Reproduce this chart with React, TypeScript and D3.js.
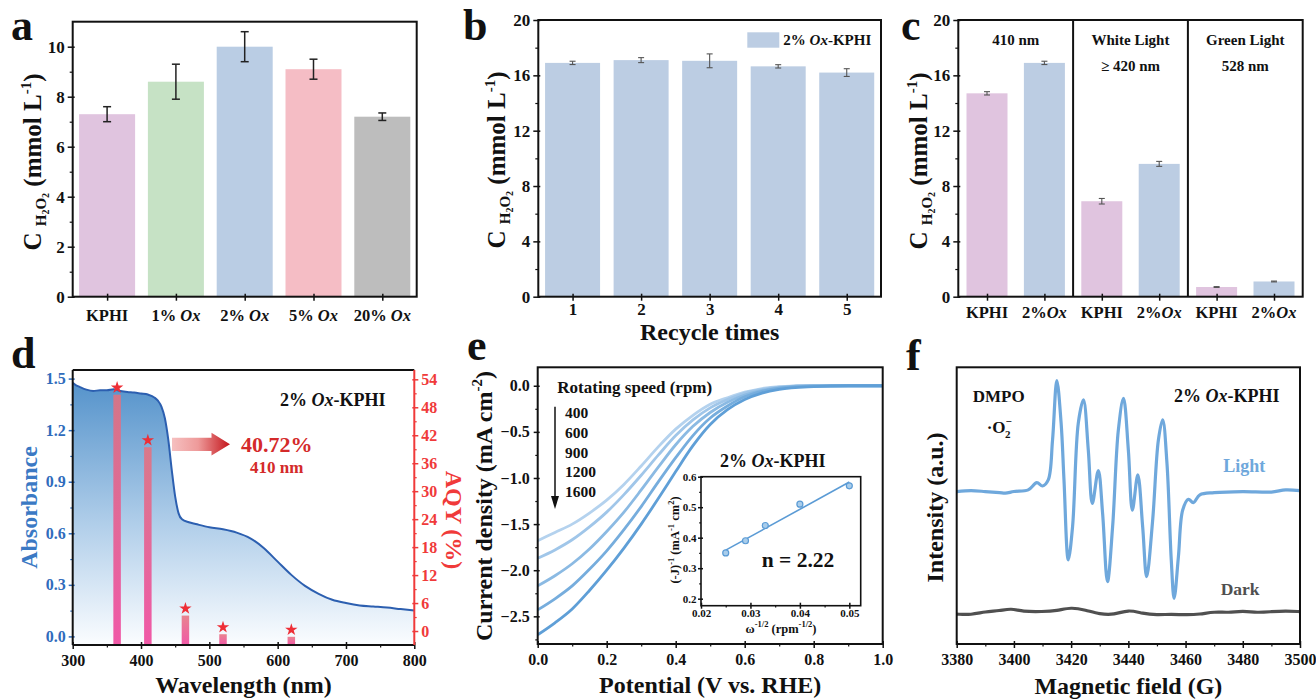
import React, { useEffect, useRef } from 'react';
import * as d3 from 'd3';

const SERIF = '"Liberation Serif", "Times New Roman", Times, serif';

// (a) H2O2 yield for different Ox loadings
const loadingLabels = ['KPHI', '1%', '2%', '5%', '20%'];
const loadingValues = [7.3, 8.6, 10.0, 9.1, 7.2];
const loadingErrors = [0.3, 0.7, 0.6, 0.4, 0.15];
const loadingColors = ['#e0c4df', '#c6e2c5', '#bacde4', '#f5bdc5', '#bdbdbd'];

// (b) recycle test
const recycleRuns = ['1', '2', '3', '4', '5'];
const recycleValues = [16.9, 17.1, 17.05, 16.65, 16.2];
const recycleErrors = [0.12, 0.18, 0.5, 0.12, 0.28];

// (c) light sources
const lightSources = ['410 nm', 'White Light', 'Green Light'];
const lightSubtitles = ['', '≥ 420 nm', '528 nm'];
const kphiByLight = [14.7, 6.9, 0.7];
const oxByLight = [16.9, 9.6, 1.1];
const kphiByLightErr = [0.12, 0.2, 0.03];
const oxByLightErr = [0.12, 0.18, 0.03];

// (d) UV-vis absorbance + AQY
const wavelengths = [300, 305, 310, 320, 330, 340, 350, 360, 370, 380, 390, 400, 410, 420, 425, 430, 435, 440, 445, 450, 455, 460, 470, 480, 500, 520, 540, 560, 580, 600, 620, 640, 660, 680, 700, 720, 740, 760, 780, 800];
const absorbance = [1.475, 1.461, 1.452, 1.436, 1.428, 1.432, 1.432, 1.438, 1.428, 1.422, 1.419, 1.413, 1.407, 1.389, 1.37, 1.336, 1.268, 1.142, 0.968, 0.813, 0.716, 0.681, 0.664, 0.654, 0.635, 0.623, 0.604, 0.571, 0.513, 0.435, 0.358, 0.294, 0.248, 0.213, 0.194, 0.18, 0.174, 0.168, 0.159, 0.151];
const aqyWavelengths = [365, 410, 465, 520, 620];
const aqyValues = [52.0, 40.72, 4.6, 0.6, 0.05];

// (e) LSV at different rotating speeds
const potentials = [0, 0.05, 0.1, 0.15, 0.2, 0.25, 0.3, 0.35, 0.4, 0.45, 0.5, 0.55, 0.6, 0.65, 0.7, 0.8, 0.9, 1.0];
const rpmLabels = ['400', '600', '900', '1200', '1600'];
const j400 = [-1.68, -1.59, -1.5, -1.38, -1.24, -1.07, -0.87, -0.66, -0.47, -0.32, -0.2, -0.13, -0.07, -0.03, -0.01, 0, 0, 0];
const j600 = [-1.87, -1.78, -1.67, -1.53, -1.37, -1.18, -0.97, -0.75, -0.54, -0.37, -0.24, -0.15, -0.08, -0.04, -0.015, 0, 0, 0];
const j900 = [-2.17, -2.06, -1.93, -1.77, -1.58, -1.37, -1.13, -0.88, -0.64, -0.44, -0.29, -0.18, -0.1, -0.05, -0.02, 0, 0, 0];
const j1200 = [-2.43, -2.31, -2.17, -1.99, -1.79, -1.56, -1.31, -1.04, -0.78, -0.54, -0.35, -0.22, -0.12, -0.06, -0.025, -0.005, 0, 0];
const j1600 = [-2.7, -2.57, -2.42, -2.22, -2.0, -1.76, -1.5, -1.22, -0.93, -0.65, -0.42, -0.26, -0.15, -0.08, -0.04, -0.01, 0, 0];
const lsvColors = ['#b4d2ee', '#a0c6e9', '#8bbae3', '#76addd', '#5f9fd7'];
const klOmega = [0.025, 0.029, 0.033, 0.04, 0.05];
const klInvJ = [0.35, 0.39, 0.44, 0.51, 0.57];

// (f) EPR, DMPO-O2-
const lightField = [3380, 3385, 3390, 3395, 3397, 3400, 3405, 3408, 3410, 3412, 3413.5, 3415, 3416.5, 3417.5, 3419, 3420.5, 3422.5, 3424.3, 3426, 3427.4, 3429.5, 3431, 3432.7, 3434.5, 3436.5, 3438.3, 3440, 3441.4, 3443.3, 3445, 3446.4, 3448.5, 3450.5, 3452, 3453.5, 3455, 3456, 3457.5, 3459, 3461, 3462.7, 3465, 3470, 3480, 3490, 3495, 3500];
const lightSignal = [55.1, 55.4, 55.1, 54.7, 54.5, 55.1, 55.7, 58.3, 57.1, 59.3, 73.7, 95.2, 79.8, 59.3, 30.4, 42.4, 79.8, 88.2, 70.1, 50.8, 62.7, 47.2, 22.5, 42.4, 77.3, 88.8, 70.1, 48.4, 61.1, 42.4, 24.3, 44.8, 73.7, 81.0, 65.3, 30.4, 16.5, 31.6, 48.4, 52.3, 51.1, 53.9, 54.7, 55.1, 54.9, 55.7, 55.4];
const darkField = [3380, 3385, 3390, 3395, 3399, 3403, 3410, 3415, 3420, 3425, 3430, 3435, 3440, 3445, 3450, 3455, 3460, 3465, 3470, 3475, 3480, 3485, 3490, 3495, 3500];
const darkSignal = [10.8, 10.5, 11.7, 12.0, 12.9, 11.7, 11.7, 12.0, 13.3, 12.3, 10.8, 10.5, 12.5, 11.0, 10.5, 10.8, 10.5, 10.7, 11.7, 11.3, 12.0, 11.3, 11.7, 12.0, 11.7];

type Sel = d3.Selection<any, unknown, null, undefined>;
type Part = { t: string; it?: boolean; dy?: number; dx?: number; fs?: number };

function rich(g: Sel, x: number, y: number, size: number, parts: Part[], o: { anchor?: string; fill?: string; rot?: number } = {}) {
  const t = g.append('text')
    .attr('transform', `translate(${x},${y})` + (o.rot ? ` rotate(${o.rot})` : ''))
    .attr('text-anchor', o.anchor || 'start')
    .attr('fill', o.fill || '#111')
    .attr('font-family', SERIF)
    .attr('font-weight', 'bold')
    .attr('font-size', size)
    .style('white-space', 'pre');
  parts.forEach((p) => {
    const s = t.append('tspan').text(p.t);
    if (p.it) s.attr('font-style', 'italic');
    if (p.dy) s.attr('dy', p.dy);
    if (p.dx) s.attr('dx', p.dx);
    if (p.fs) s.attr('font-size', p.fs);
  });
  return t;
}

function yAxis(g: Sel, y: any, x: number, majors: number[], minors: number[], fmt: any, o: { right?: boolean; color?: string; fs?: number; size?: number; pad?: number } = {}) {
  const mk = o.right ? d3.axisRight : d3.axisLeft;
  const col = o.color || '#111';
  const sz = o.size ?? 5;
  const a = g.append('g').attr('transform', `translate(${x},0)`)
    .call(mk(y).tickValues(majors).tickFormat(fmt).tickSize(sz).tickSizeOuter(0).tickPadding(o.pad ?? 3));
  a.select('.domain').remove();
  a.selectAll('.tick line').attr('stroke', col).attr('stroke-width', 1.5).attr('x1', o.right ? -2 : 2);
  a.selectAll('.tick text').attr('fill', col).attr('font-family', SERIF).attr('font-weight', 'bold').attr('font-size', o.fs || 17);
  if (minors.length) {
    const m = g.append('g').attr('transform', `translate(${x},0)`)
      .call(mk(y).tickValues(minors).tickFormat(() => '').tickSize(sz * 0.6).tickSizeOuter(0));
    m.select('.domain').remove();
    m.selectAll('.tick line').attr('stroke', col).attr('stroke-width', 1.2);
  }
}

function xAxis(g: Sel, x: any, y: number, majors: any[], minors: any[], fmt: any, o: { fs?: number; size?: number; pad?: number } = {}) {
  const sz = o.size ?? 5;
  const a = g.append('g').attr('transform', `translate(0,${y})`)
    .call(d3.axisBottom(x).tickValues(majors).tickFormat(fmt).tickSize(sz).tickSizeOuter(0).tickPadding(o.pad ?? 3));
  a.select('.domain').remove();
  a.selectAll('.tick line').attr('stroke', '#111').attr('stroke-width', 1.5).attr('y1', -3);
  a.selectAll('.tick text').attr('fill', '#111').attr('font-family', SERIF).attr('font-weight', 'bold').attr('font-size', o.fs || 17);
  if (minors.length) {
    const m = g.append('g').attr('transform', `translate(0,${y})`)
      .call(d3.axisBottom(x).tickValues(minors).tickFormat(() => '').tickSize(sz * 0.6).tickSizeOuter(0));
    m.select('.domain').remove();
    m.selectAll('.tick line').attr('stroke', '#111').attr('stroke-width', 1.2);
  }
}

function frame(g: Sel, x0: number, y0: number, x1: number, y1: number, w = 2) {
  g.append('rect').attr('x', x0).attr('y', y0).attr('width', x1 - x0).attr('height', y1 - y0)
    .attr('fill', 'none').attr('stroke', '#111').attr('stroke-width', w);
}

function errorBars(g: Sel, xs: number[], y: any, vals: number[], errs: number[], color: string, cap: number, w: number) {
  vals.forEach((v, i) => {
    const x = xs[i];
    const a = y(v - errs[i]);
    const b = y(v + errs[i]);
    g.append('line').attr('x1', x).attr('x2', x).attr('y1', a).attr('y2', b).attr('stroke', color).attr('stroke-width', w);
    [a, b].forEach((yy) => g.append('line').attr('x1', x - cap / 2).attr('x2', x + cap / 2).attr('y1', yy).attr('y2', yy).attr('stroke', color).attr('stroke-width', w));
  });
}

const concParts: Part[] = [
  { t: 'C ' }, { t: 'H', fs: 15, dy: 5 }, { t: '2', fs: 10, dy: 3 }, { t: 'O', fs: 15, dy: -3 }, { t: '2', fs: 10, dy: 3 },
  { t: ' (mmol L', dy: -8 }, { t: '-1', fs: 15, dy: -10 }, { t: ')', dy: 10 },
];

function panelLetter(g: Sel, x: number, y: number, s: string) {
  rich(g, x, y, 44, [{ t: s }]);
}

function drawA(g: Sel) {
  const x0 = 72.7, x1 = 416.7, y0 = 21.7, y1 = 296.7;
  const x = d3.scalePoint<string>().domain(loadingLabels).range([x0, x1]).padding(0.5);
  const y = d3.scaleLinear().domain([0, 11]).range([y1, y0]);
  const bw = 56;
  g.selectAll('.bar').data(loadingValues).join('rect')
    .attr('x', (_, i) => x(loadingLabels[i])! - bw / 2).attr('width', bw)
    .attr('y', (d) => y(d)).attr('height', (d) => y1 - y(d))
    .attr('fill', (_, i) => loadingColors[i]);
  errorBars(g, loadingLabels.map((l) => x(l)!), y, loadingValues, loadingErrors, '#222', 8, 1.5);
  yAxis(g, y, x0, d3.range(0, 11, 2), d3.range(1, 11, 2), d3.format('d'));
  xAxis(g, x, y1, loadingLabels, [], () => '', { size: 4 });
  loadingLabels.forEach((l) => {
    const parts: Part[] = l === 'KPHI' ? [{ t: 'KPHI' }] : [{ t: l + ' ' }, { t: 'Ox', it: true }];
    rich(g, x(l)!, 321, 16.5, parts, { anchor: 'middle' });
  });
  frame(g, x0, y0, x1, y1);
  rich(g, 41, 162, 25, concParts, { anchor: 'middle', rot: -90 });
  panelLetter(g, 11, 40, 'a');
}

function drawB(g: Sel) {
  const x0 = 538.3, x1 = 881, y0 = 20, y1 = 296.7;
  const x = d3.scalePoint<string>().domain(recycleRuns).range([x0, x1]).padding(0.5);
  const y = d3.scaleLinear().domain([0, 20]).range([y1, y0]);
  const bw = 55;
  g.selectAll('.bar').data(recycleValues).join('rect')
    .attr('x', (_, i) => x(recycleRuns[i])! - bw / 2).attr('width', bw)
    .attr('y', (d) => y(d)).attr('height', (d) => y1 - y(d))
    .attr('fill', '#bccde3');
  errorBars(g, recycleRuns.map((r) => x(r)!), y, recycleValues, recycleErrors, '#555', 6, 1.1);
  yAxis(g, y, x0, d3.range(0, 21, 4), d3.range(2, 20, 4), d3.format('d'));
  xAxis(g, x, y1, recycleRuns, [], (d: string) => d, { size: 4, pad: 2 });
  frame(g, x0, y0, x1, y1);
  g.append('rect').attr('x', 747.3).attr('y', 32.3).attr('width', 32).attr('height', 15.4).attr('fill', '#bccde3');
  rich(g, 783.3, 45, 15, [{ t: '2% ' }, { t: 'Ox', it: true }, { t: '-KPHI' }]);
  rich(g, (x0 + x1) / 2, 340, 24, [{ t: 'Recycle times' }], { anchor: 'middle' });
  rich(g, 505, 160, 25, concParts, { anchor: 'middle', rot: -90 });
  panelLetter(g, 463, 40, 'b');
}

function drawC(g: Sel) {
  const x0 = 958.3, x1 = 1302.7, y0 = 20, y1 = 296.7;
  const keys: string[] = [];
  const vals: number[] = [];
  const errs: number[] = [];
  const cols: string[] = [];
  lightSources.forEach((s, i) => {
    keys.push(s + '|KPHI', s + '|Ox');
    vals.push(kphiByLight[i], oxByLight[i]);
    errs.push(kphiByLightErr[i], oxByLightErr[i]);
    cols.push('#e0c4df', '#bccde3');
  });
  const x = d3.scalePoint<string>().domain(keys).range([x0, x1]).padding(0.5);
  const y = d3.scaleLinear().domain([0, 20]).range([y1, y0]);
  const bw = 41;
  g.selectAll('.bar').data(vals).join('rect')
    .attr('x', (_, i) => x(keys[i])! - bw / 2).attr('width', bw)
    .attr('y', (d) => y(d)).attr('height', (d) => y1 - y(d))
    .attr('fill', (_, i) => cols[i]);
  errorBars(g, keys.map((k) => x(k)!), y, vals, errs, '#555', 6, 1.1);
  yAxis(g, y, x0, d3.range(0, 21, 4), d3.range(2, 20, 4), d3.format('d'));
  xAxis(g, x, y1, keys, [], () => '', { size: 4 });
  keys.forEach((k) => {
    const parts: Part[] = k.endsWith('KPHI') ? [{ t: 'KPHI' }] : [{ t: '2%' }, { t: 'Ox', it: true }];
    rich(g, x(k)!, 318, 16.5, parts, { anchor: 'middle' });
  });
  lightSources.forEach((s, i) => {
    const a = x(keys[2 * i])!;
    const b = x(keys[2 * i + 1])!;
    const cx = (a + b) / 2;
    rich(g, cx, 45, 15, [{ t: s }], { anchor: 'middle' });
    if (lightSubtitles[i]) rich(g, cx, 70.5, 15, [{ t: lightSubtitles[i] }], { anchor: 'middle' });
    if (i > 0) {
      const dx = (x(keys[2 * i - 1])! + a) / 2;
      g.append('line').attr('x1', dx).attr('x2', dx).attr('y1', y0).attr('y2', y1).attr('stroke', '#111').attr('stroke-width', 2);
    }
  });
  frame(g, x0, y0, x1, y1);
  rich(g, 927, 161, 25, concParts, { anchor: 'middle', rot: -90 });
  panelLetter(g, 901, 40, 'c');
}

function drawD(g: Sel, defs: Sel) {
  const x0 = 72.7, x1 = 414.3, y0 = 370, y1 = 645;
  const x = d3.scaleLinear().domain([300, 800]).range([x0, x1]);
  const yL = d3.scaleLinear().domain([-0.05, 1.55]).range([y1, y0]);
  const yR = d3.scaleLinear().domain([-3, 56]).range([y1, y0]);

  const fg = defs.append('linearGradient').attr('id', 'absFill').attr('gradientUnits', 'userSpaceOnUse')
    .attr('x1', 0).attr('x2', 0).attr('y1', yL(1.48)).attr('y2', y1);
  fg.append('stop').attr('offset', 0).attr('stop-color', '#5593cb');
  fg.append('stop').attr('offset', 0.55).attr('stop-color', '#b2cfea');
  fg.append('stop').attr('offset', 1).attr('stop-color', '#fbfdff');
  const bg = defs.append('linearGradient').attr('id', 'aqyBar').attr('x1', 0).attr('x2', 0).attr('y1', 0).attr('y2', 1);
  bg.append('stop').attr('offset', 0).attr('stop-color', '#e8707c');
  bg.append('stop').attr('offset', 1).attr('stop-color', '#ee3c98');
  const ag = defs.append('linearGradient').attr('id', 'arrowGrad').attr('x1', 0).attr('x2', 1).attr('y1', 0).attr('y2', 0);
  ag.append('stop').attr('offset', 0).attr('stop-color', '#f6c0c0');
  ag.append('stop').attr('offset', 0.45).attr('stop-color', '#ee9a9a');
  ag.append('stop').attr('offset', 1).attr('stop-color', '#c4161c');

  const pts = wavelengths.map((w, i) => [w, absorbance[i]] as [number, number]);
  g.append('path').datum(pts)
    .attr('d', d3.area<[number, number]>().x((d) => x(d[0])).y0(y1).y1((d) => yL(d[1])).curve(d3.curveMonotoneX))
    .attr('fill', 'url(#absFill)');
  g.append('path').datum(pts)
    .attr('d', d3.line<[number, number]>().x((d) => x(d[0])).y((d) => yL(d[1])).curve(d3.curveMonotoneX))
    .attr('fill', 'none').attr('stroke', '#2c5fb0').attr('stroke-width', 2);

  const bw = 7.5;
  aqyWavelengths.forEach((w, i) => {
    const top = yR(aqyValues[i]) + 6;
    g.append('rect').attr('x', x(w) - bw / 2).attr('width', bw).attr('y', top).attr('height', y1 - top)
      .attr('fill', 'url(#aqyBar)').attr('fill-opacity', 0.85);
    g.append('path').attr('d', d3.symbol(d3.symbolStar, 48)())
      .attr('transform', `translate(${x(w)},${yR(aqyValues[i]) - 1})`).attr('fill', '#ee2e36');
  });

  yAxis(g, yL, x0, [0, 0.3, 0.6, 0.9, 1.2, 1.5], [0.15, 0.45, 0.75, 1.05, 1.35], d3.format('.1f'), { color: '#2f6cbc', fs: 16, size: 4 });
  yAxis(g, yR, x1, d3.range(0, 55, 6), d3.range(3, 55, 6), d3.format('d'), { right: true, color: '#f03a3a', fs: 16, size: 4, pad: 3 });
  xAxis(g, x, y1, d3.range(300, 801, 100), d3.range(350, 800, 100), d3.format('d'), { fs: 16, size: 4, pad: 6 });

  g.append('line').attr('x1', x0).attr('x2', x1).attr('y1', y0).attr('y2', y0).attr('stroke', '#111').attr('stroke-width', 2);
  g.append('line').attr('x1', x0).attr('x2', x1).attr('y1', y1).attr('y2', y1).attr('stroke', '#111').attr('stroke-width', 2);
  g.append('line').attr('x1', x0).attr('x2', x0).attr('y1', y0).attr('y2', y1).attr('stroke', '#111').attr('stroke-width', 2);
  g.append('line').attr('x1', x1).attr('x2', x1).attr('y1', y0).attr('y2', y1).attr('stroke', '#f03a3a').attr('stroke-width', 2);

  g.append('path').attr('d', 'M172,437.7 L211.5,437.7 L211.5,432.7 L230,444.3 L211.5,455.5 L211.5,451 L172,451 Z').attr('fill', 'url(#arrowGrad)');
  rich(g, 280, 405.7, 18, [{ t: '2% ' }, { t: 'Ox', it: true }, { t: '-KPHI' }]);
  rich(g, 241, 452.3, 22, [{ t: '40.72%' }], { fill: '#d42a2a' });
  rich(g, 250, 473.3, 17, [{ t: '410 nm' }], { fill: '#d42a2a' });
  rich(g, (x0 + x1) / 2, 693, 24, [{ t: 'Wavelength (nm)' }], { anchor: 'middle' });
  rich(g, 37, 507.5, 24, [{ t: 'Absorbance' }], { anchor: 'middle', rot: -90, fill: '#3b79c4' });
  rich(g, 446, 520, 24, [{ t: 'AQY (%)' }], { anchor: 'middle', rot: 90, fill: '#f03a3a' });
  panelLetter(g, 11, 368, 'd');
}

function drawE(g: Sel) {
  const x0 = 537.7, x1 = 882.7, y0 = 367.3, y1 = 644;
  const x = d3.scaleLinear().domain([0, 1]).range([x0, x1]);
  const y = d3.scaleLinear().domain([-2.8, 0.2]).range([y1, y0]);
  const series = [j400, j600, j900, j1200, j1600];
  const line = d3.line<number>().x((_, i) => x(potentials[i])).y((d) => y(d)).curve(d3.curveMonotoneX);
  series.forEach((s, k) => {
    g.append('path').datum(s).attr('d', line).attr('fill', 'none').attr('stroke', lsvColors[k]).attr('stroke-width', 2.8);
  });

  yAxis(g, y, x0, [0, -0.5, -1, -1.5, -2, -2.5], [-0.25, -0.75, -1.25, -1.75, -2.25, -2.75], d3.format('.1f'), { fs: 16, size: 4, pad: 4 });
  xAxis(g, x, y1, [0, 0.2, 0.4, 0.6, 0.8, 1.0], [0.1, 0.3, 0.5, 0.7, 0.9], d3.format('.1f'), { fs: 16, size: 4, pad: 6 });
  frame(g, x0, y0, x1, y1);

  rich(g, 557.3, 393.3, 17, [{ t: 'Rotating speed (rpm)' }]);
  rpmLabels.forEach((r, i) => rich(g, 565, 418 + i * 19.8, 15.5, [{ t: r }]));
  g.append('line').attr('x1', 555).attr('x2', 555).attr('y1', 406.7).attr('y2', 500).attr('stroke', '#111').attr('stroke-width', 1.5);
  g.append('path').attr('d', 'M551,496 L559,496 L555,509 Z').attr('fill', '#111');

  // inset: Koutecky-Levich plot
  const ix0 = 701, ix1 = 860.7, iy0 = 476.7, iy1 = 605.7;
  const ix = d3.scaleLinear().domain([0.02, 0.0523]).range([ix0, ix1]);
  const iy = d3.scaleLinear().domain([0.177, 0.6]).range([iy1, iy0]);
  g.append('rect').attr('x', ix0).attr('y', iy0).attr('width', ix1 - ix0).attr('height', iy1 - iy0).attr('fill', '#fff');
  const mx = d3.mean(klOmega)!;
  const my = d3.mean(klInvJ)!;
  const slope = d3.sum(klOmega, (v, i) => (v - mx) * (klInvJ[i] - my)) / d3.sum(klOmega, (v) => (v - mx) ** 2);
  const fitX = [klOmega[0], klOmega[klOmega.length - 1]];
  g.append('line').attr('x1', ix(fitX[0])).attr('x2', ix(fitX[1]))
    .attr('y1', iy(my + slope * (fitX[0] - mx))).attr('y2', iy(my + slope * (fitX[1] - mx)))
    .attr('stroke', '#5b9bd5').attr('stroke-width', 1.6);
  g.selectAll('.kl').data(klOmega).join('circle')
    .attr('cx', (d) => ix(d)).attr('cy', (_, i) => iy(klInvJ[i])).attr('r', 3)
    .attr('fill', '#a9cdeb').attr('stroke', '#5b9bd5').attr('stroke-width', 1.2);
  yAxis(g, iy, ix0, [0.2, 0.3, 0.4, 0.5, 0.6], [0.25, 0.35, 0.45, 0.55], d3.format('.1f'), { fs: 11, size: 3, pad: 1.5 });
  xAxis(g, ix, iy1, [0.02, 0.03, 0.04, 0.05], [0.025, 0.035, 0.045], d3.format('.2f'), { fs: 11, size: 3, pad: 1 });
  frame(g, ix0, iy0, ix1, iy1, 1.6);
  rich(g, (ix0 + ix1) / 2 - 8, 466.7, 18, [{ t: '2% ' }, { t: 'Ox', it: true }, { t: '-KPHI' }], { anchor: 'middle' });
  rich(g, 761.7, 567.3, 21.5, [{ t: 'n = 2.22' }]);
  rich(g, 781, 633, 12.5, [{ t: 'ω' }, { t: '-1/2', fs: 8.5, dy: -6 }, { t: ' (rpm', dy: 6 }, { t: '-1/2', fs: 8.5, dy: -6 }, { t: ')', dy: 6 }], { anchor: 'middle' });
  rich(g, 679, 540, 12.5, [{ t: '(-J)' }, { t: '-1', fs: 8.5, dy: -5 }, { t: ' (mA', dy: 5 }, { t: '-1', fs: 8.5, dy: -5 }, { t: ' cm', dy: 5 }, { t: '2', fs: 8.5, dy: -5 }, { t: ')', dy: 5 }], { anchor: 'middle', rot: -90 });

  rich(g, (x0 + x1) / 2, 693, 24, [{ t: 'Potential (V vs. RHE)' }], { anchor: 'middle' });
  rich(g, 492, 506, 24, [{ t: 'Current density (mA cm' }, { t: '-2', fs: 15, dy: -10 }, { t: ')', dy: 10 }], { anchor: 'middle', rot: -90 });
  panelLetter(g, 467, 360, 'e');
}

function drawF(g: Sel) {
  const x0 = 956.7, x1 = 1300, y0 = 367.3, y1 = 644;
  const x = d3.scaleLinear().domain([3380, 3500]).range([x0, x1]);
  const y = d3.scaleLinear().domain([0, 100]).range([y1, y0]);
  const lineL = d3.line<number>().x((_, i) => x(lightField[i])).y((d) => y(d)).curve(d3.curveCatmullRom.alpha(0.5));
  const lineD = d3.line<number>().x((_, i) => x(darkField[i])).y((d) => y(d)).curve(d3.curveBasis);
  g.append('path').datum(darkSignal).attr('d', lineD).attr('fill', 'none').attr('stroke', '#505050').attr('stroke-width', 3.2);
  g.append('path').datum(lightSignal).attr('d', lineL).attr('fill', 'none').attr('stroke', '#6fa8dc').attr('stroke-width', 3.2).attr('stroke-linejoin', 'round');
  xAxis(g, x, y1, d3.range(3380, 3501, 20), d3.range(3390, 3500, 20), d3.format('d'), { fs: 16, size: 4, pad: 6 });
  frame(g, x0, y0, x1, y1);
  rich(g, 972.7, 402.3, 17, [{ t: 'DMPO' }]);
  rich(g, 986.7, 433.3, 17, [{ t: '·O' }, { t: '−', fs: 11, dy: -8 }, { t: '2', fs: 11, dx: -7, dy: 13 }]);
  rich(g, 1174, 402.3, 18, [{ t: '2% ' }, { t: 'Ox', it: true }, { t: '-KPHI' }]);
  rich(g, 1223.3, 472.3, 18, [{ t: 'Light' }], { fill: '#6fa8dc' });
  rich(g, 1220.7, 595, 17.5, [{ t: 'Dark' }], { fill: '#505050' });
  rich(g, (x0 + x1) / 2, 694, 24, [{ t: 'Magnetic field (G)' }], { anchor: 'middle' });
  rich(g, 943, 507.5, 24, [{ t: 'Intensity (a.u.)' }], { anchor: 'middle', rot: -90 });
  panelLetter(g, 906, 370, 'f');
}

export default function App() {
  const ref = useRef<SVGSVGElement>(null);
  useEffect(() => {
    const svg = d3.select(ref.current);
    svg.selectAll('*').remove();
    const defs = svg.append('defs');
    drawA(svg.append('g'));
    drawB(svg.append('g'));
    drawC(svg.append('g'));
    drawD(svg.append('g'), defs);
    drawE(svg.append('g'));
    drawF(svg.append('g'));
  }, []);
  return (
    <div style={{ position: 'absolute', left: 0, top: 0 }}>
      <svg ref={ref} width={1316} height={699} style={{ display: 'block', background: '#fff' }} />
    </div>
  );
}
